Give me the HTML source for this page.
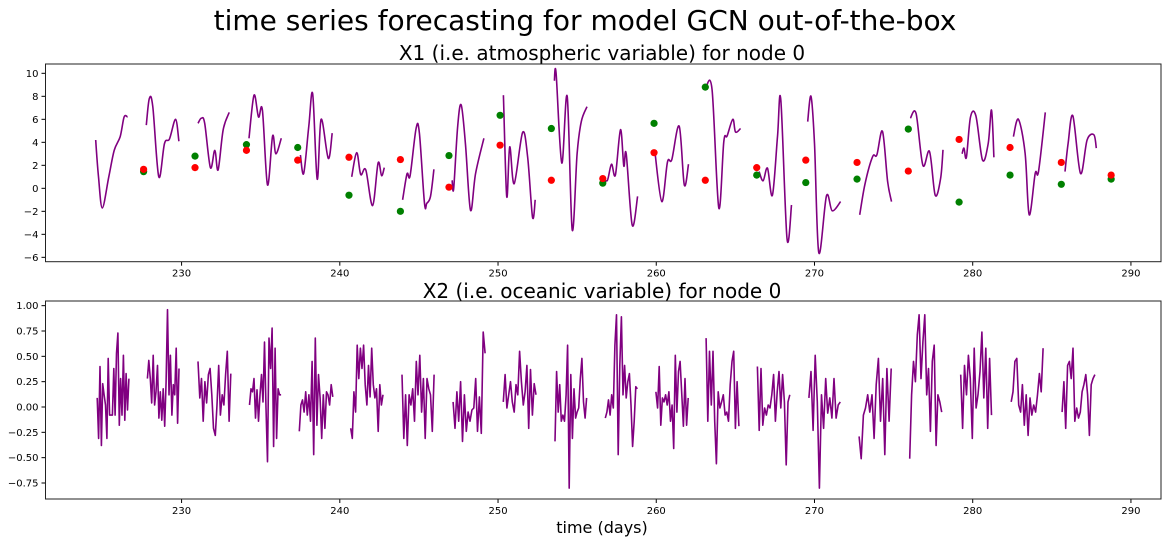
<!DOCTYPE html>
<html><head><meta charset="utf-8">
<style>
html,body{margin:0;padding:0;background:#fff;}
svg{display:block;font-family:"DejaVu Sans","Liberation Sans",sans-serif;}
</style></head>
<body>
<svg id="fig" width="1168" height="542" xmlns="http://www.w3.org/2000/svg">
<text x="585" y="30" font-size="28" text-anchor="middle" fill="#000">time series forecasting for model GCN out-of-the-box</text>
<text x="602" y="60" font-size="20" text-anchor="middle" fill="#000">X1 (i.e. atmospheric variable) for node 0</text>
<text x="602" y="298" font-size="20" text-anchor="middle" fill="#000">X2 (i.e. oceanic variable) for node 0</text>
<text x="602" y="533" font-size="16" text-anchor="middle" fill="#000">time (days)</text>
<g id="top"></g>
<g id="bot"></g>
</svg>
<script>
// ---- data: top chart (X1) ----
const x1Segments = [
 [[224.57,4.2],[224.75,1],[224.99,-1.7],[225.4,1.0],[225.74,3.3],[226.12,4.5],[226.37,6.2],[226.59,6.2]],
 [[227.77,5.5],[227.96,7.8],[228.18,7.1],[228.56,1.0],[228.92,3.9],[229.24,4.3],[229.62,6.0],[229.83,4.1]],
 [[231.04,5.65],[231.25,6.1],[231.46,5.65],[231.82,1.8],[232.1,3.3],[232.31,1.6],[232.63,5.1],[233.01,6.6]],
 [[234.26,4.35],[234.58,8.1],[234.86,6.2],[235.11,6.8],[235.43,0.3],[235.75,4.55],[235.96,3.0],[236.3,4.35]],
 [[237.51,2.9],[237.72,1.3],[238.04,5.4],[238.29,8.2],[238.57,0.8],[238.82,6.0],[239.27,2.6],[239.52,4.8]],
 [[240.75,1.0],[241.07,3.1],[241.32,1.2],[241.64,1.6],[242.07,-1.5],[242.42,2.2],[242.64,1.1],[242.81,1.8]],
 [[243.97,-1.0],[244.25,1.25],[244.44,1.1],[244.82,5.2],[245.03,4.8],[245.35,-1.3],[245.5,-1.3],[245.73,-0.7],[245.95,1.65]],
 [[247.1,0.7],[247.2,0],[247.45,5.4],[247.67,7.25],[247.94,3.9],[248.26,-1.9],[248.58,1.3],[249.11,4.35]],
 [[250.34,8.1],[250.55,-0.7],[250.74,3.6],[251.02,0.4],[251.55,4.85],[251.87,2.75],[252.18,-2.5],[252.35,-1.0]],
 [[253.56,9.35],[253.67,10.0],[254.03,2.2],[254.37,8.0],[254.69,-3.6],[255.0,3.0],[255.26,5.8],[255.62,7.1]],
 [[256.64,0.9],[256.91,0.7],[257.17,2.1],[257.42,1.15],[257.74,5.1],[257.95,1.95],[258.1,3.0],[258.48,-3.2],[258.82,-0.7]],
 [[259.92,3.1],[260.35,-1.15],[260.71,2.3],[260.98,2.5],[261.45,5.4],[261.77,0.3],[262.04,2.1]],
 [[263.15,8.85],[263.53,8.55],[263.95,-1.7],[264.27,4.05],[264.48,4.55],[264.84,6.0],[265.01,4.9],[265.33,5.2]],
 [[266.5,1.45],[266.75,0.65],[267.03,1.75],[267.34,-0.6],[267.66,4.5],[267.87,7.7],[268.26,-4.35],[268.55,-1.45]],
 [[269.57,5.8],[269.78,8.0],[270.0,3.9],[270.27,-5.6],[270.76,-0.65],[271.12,-1.95],[271.65,-1.15]],
 [[272.86,-2.3],[273.18,0.3],[273.67,2.75],[273.94,2.9],[274.3,4.95],[274.62,0.6],[274.87,-1.15]],
 [[276.06,6.1],[276.42,6.5],[276.85,2.0],[277.27,3.2],[277.63,-0.6],[277.97,0.85],[278.12,3.35]],
 [[279.33,3.0],[279.45,3.5],[279.6,2.7],[279.86,6.2],[280.2,6.3],[280.62,2.45],[280.98,3.9],[281.19,6.8],[281.34,2.7]],
 [[282.57,4.5],[282.89,6.0],[283.31,3.05],[283.57,-2.3],[283.95,1.3],[284.16,1.45],[284.59,6.6]],
 [[285.83,1.45],[286.03,3.9],[286.33,6.3],[286.81,1.3],[287.23,4.2],[287.66,4.65],[287.81,3.5]]
];
const dotDays = [227.6,230.85,234.1,237.34,240.58,243.83,246.9,250.13,253.37,256.62,259.86,263.1,266.35,269.45,272.69,275.93,279.14,282.36,285.6,288.75];
const redValues = [1.65,1.8,3.3,2.45,2.7,2.5,0.1,3.75,0.7,0.85,3.1,0.7,1.8,2.45,2.25,1.5,4.25,3.55,2.25,1.15];
const greenValues = [1.45,2.8,3.8,3.55,-0.6,-2.0,2.85,6.35,5.2,0.45,5.65,8.8,1.15,0.5,0.8,5.15,-1.2,1.15,0.35,0.8];
const x1Ticks = [-6,-4,-2,0,2,4,6,8,10];
const xTicks = [230,240,250,260,270,280,290];
// ---- data: bottom chart (X2) ----
const x2Starts = [224.67,227.84,231.04,234.29,237.44,240.69,243.93,247.16,250.33,253.6,256.78,259.98,263.15,266.39,269.65,272.82,276.02,279.24,282.43,285.65];
const x2Ends = [226.67,229.84,233.11,236.29,239.56,242.73,245.96,249.18,252.4,255.6,258.81,262.02,265.22,268.44,271.63,274.85,278.04,281.19,284.45,287.72];
const x2Values = [
 [0.09,-0.31,0.4,-0.38,0.23,0.12,0.02,-0.31,0.48,-0.08,-0.08,-0.08,0.38,-0.08,0.53,0.73,-0.18,0.28,-0.08,0.51,-0.13,0.33,-0.03,0.28],
 [0.28,0.46,0.28,0.04,0.51,0.02,0.15,0.41,-0.11,0.15,-0.13,0.18,-0.19,0.25,0.96,0.12,0.51,-0.08,0.22,0.12,0.58,-0.16,0.38],
 [0.45,0.09,0.28,-0.14,0.25,0.04,0.32,0.38,0.12,-0.21,-0.28,0.02,0.41,-0.08,0.12,0.02,0.32,0.55,-0.14,0.33],
 [0.02,0.18,0.15,0.28,-0.11,0.17,-0.14,0.12,0.32,0.05,0.64,-0.01,-0.54,0.68,0.38,0.78,-0.39,0.58,-0.31,0.18,0.12,0.12],
 [-0.24,0.02,0.07,-0.05,0.15,-0.08,0.12,-0.14,0.45,-0.47,0.68,-0.18,0.32,0.09,-0.31,0.12,-0.21,0.15,0.12,0.02,0.22,0.1],
 [-0.21,-0.31,0.15,-0.05,0.61,0.28,0.58,0.38,0.61,0.22,0.02,0.41,0.1,0.58,0.22,0.09,0.18,-0.24,0.22,0.02,0.12],
 [0.32,-0.31,0.12,-0.38,0.12,0.02,0.18,-0.14,0.45,0.12,0.51,-0.05,0.28,-0.31,0.28,0.18,0.12,-0.24,0.32],
 [0.05,-0.21,0.15,-0.14,0.25,-0.34,0.12,-0.24,-0.05,-0.14,-0.03,-0.01,0.28,-0.24,0.1,-0.26,0.74,0.53],
 [0.05,0.32,-0.01,0.12,0.25,0.05,-0.05,0.22,0.12,0.55,0.25,0.02,0.15,0.41,-0.21,0.37,-0.08,0.23,0.12],
 [-0.34,0.35,-0.05,0.22,-0.14,-0.08,-0.14,0.12,0.61,-0.8,0.32,-0.31,0.18,-0.11,-0.05,-0.01,0.28,0.48,0.05,-0.11,0.09],
 [-0.11,-0.05,0.07,-0.08,0.12,-0.01,0.61,0.91,-0.47,0.41,0.89,0.12,0.41,0.09,0.25,0.33,0.02,-0.39,-0.14,0.2,0.18],
 [0.15,-0.01,0.4,-0.18,0.09,0.05,0.12,0.02,0.15,-0.14,0.02,-0.41,0.51,-0.05,0.35,0.45,0.12,-0.19,0.28,-0.18,0.09],
 [0.68,-0.14,0.55,0.02,0.55,-0.14,-0.56,0.15,-0.01,0.05,0.12,-0.08,-0.05,-0.14,0.22,0.45,0.55,-0.21,0.25,-0.19],
 [0.4,-0.23,0.38,-0.18,-0.01,-0.08,0.02,-0.01,0.12,0.32,-0.14,0.15,0.35,-0.01,0.32,0.05,-0.57,0.05,0.12],
 [0.09,0.35,-0.23,0.51,0.05,-0.8,0.12,-0.21,0.28,-0.06,0.09,-0.11,0.28,-0.11,0.02,0.05],
 [-0.29,-0.51,-0.08,-0.01,0.12,-0.05,0.12,-0.31,0.22,0.48,-0.14,0.28,-0.47,0.38,-0.14,0.38],
 [-0.51,0.12,0.45,0.25,0.71,0.91,0.28,0.64,0.91,0.12,0.38,-0.24,0.45,0.61,-0.38,0.12,0.05,-0.05],
 [0.32,-0.21,0.41,0.12,0.51,0.28,-0.31,0.58,-0.01,0.12,0.35,0.74,0.09,0.58,-0.21,0.48,-0.08],
 [0.05,0.15,0.45,0.48,0.02,-0.05,0.22,-0.18,0.12,-0.28,0.09,-0.08,0.02,-0.05,0.12,0.33,0.15,0.58],
 [-0.05,0.25,-0.21,0.41,0.45,0.28,0.58,-0.14,-0.01,-0.11,-0.05,0.15,0.22,0.32,0.12,-0.28,0.22,0.28,0.32]
];
const x2Ticks = [-0.75,-0.5,-0.25,0,0.25,0.5,0.75,1.0];
const x2TickLabels = ["−0.75","−0.50","−0.25","0.00","0.25","0.50","0.75","1.00"];

const NS = "http://www.w3.org/2000/svg";
const L = 45.5, R = 1161, XMIN = 221.4, XMAX = 291.9;
function xs(d){ return L + (d - XMIN) / (XMAX - XMIN) * (R - L); }
function mk(tag, attrs, parent){ const e = document.createElementNS(NS, tag); for (const k in attrs) e.setAttribute(k, attrs[k]); parent.appendChild(e); return e; }

function axes(g, top, bot, ymin, ymax, ticks, labels){
  const ys = v => bot - (v - ymin) / (ymax - ymin) * (bot - top);
  ticks.forEach((t, i) => {
    const y = ys(t);
    const tk = mk('line', {x1: L - 4, x2: L, y1: y, y2: y, stroke: '#000', 'stroke-width': 1}, g);
    
    
    const tx = mk('text', {x: L - 7, y: y + 3.5, 'font-size': 10, 'text-anchor': 'end', fill: '#000'}, g);
    
    
    tx.textContent = labels ? labels[i] : (t < 0 ? '−' + (-t) : String(t));
  });
  xTicks.forEach(t => {
    const x = xs(t);
    const tk = mk('line', {x1: x, x2: x, y1: bot, y2: bot + 4, stroke: '#000', 'stroke-width': 1}, g);
    
    
    const tx = mk('text', {x: x, y: bot + 15, 'font-size': 10, 'text-anchor': 'middle', fill: '#000'}, g);
    
    
    tx.textContent = String(t);
  });
  return ys;
}
function frame(g, top, bot){
  const f = mk('rect', {x: L, y: top, width: R - L, height: bot - top, fill: 'none', stroke: '#222', 'stroke-width': 1}, g);
  
  
}
function smoothPath(P){
  let d = 'M' + P[0][0].toFixed(1) + ',' + P[0][1].toFixed(1);
  for (let i = 0; i < P.length - 1; i++){
    const p0 = P[Math.max(0, i - 1)], p1 = P[i], p2 = P[i + 1], p3 = P[Math.min(P.length - 1, i + 2)];
    const c1x = p1[0] + (p2[0] - p0[0]) / 6, c1y = p1[1] + (p2[1] - p0[1]) / 6;
    const c2x = p2[0] - (p3[0] - p1[0]) / 6, c2y = p2[1] - (p3[1] - p1[1]) / 6;
    d += ' C' + c1x.toFixed(1) + ',' + c1y.toFixed(1) + ' ' + c2x.toFixed(1) + ',' + c2y.toFixed(1) + ' ' + p2[0].toFixed(1) + ',' + p2[1].toFixed(1);
  }
  return d;
}

// top chart
const gT = document.getElementById('top');
const T1 = 64, B1 = 261.7;
const ysT = axes(gT, T1, B1, -6.38, 10.81, x1Ticks, null);
x1Segments.forEach(seg => {
  const P = seg.map(q => [xs(q[0]), ysT(q[1])]);
  const p = mk('path', {d: smoothPath(P), fill: 'none', stroke: '#800080', 'stroke-width': 1.6, 'stroke-linejoin': 'round'}, gT);
  
  
});
dotDays.forEach((d, i) => {
  const c = mk('circle', {cx: xs(d), cy: ysT(greenValues[i]), r: 3.6, fill: '#008000'}, gT);
  
  
});
dotDays.forEach((d, i) => {
  const c = mk('circle', {cx: xs(d), cy: ysT(redValues[i]), r: 3.6, fill: '#ff0000'}, gT);
  
  
});
frame(gT, T1, B1);

// bottom chart
const gB = document.getElementById('bot');
const T2 = 301, B2 = 499;
const ysB = axes(gB, T2, B2, -0.908, 1.046, x2Ticks, x2TickLabels);
x2Values.forEach((vals, s) => {
  const n = vals.length, t0 = x2Starts[s], t1 = x2Ends[s];
  const pts = vals.map((v, i) => xs(t0 + (t1 - t0) * i / (n - 1)).toFixed(1) + ',' + ysB(v).toFixed(1)).join(' ');
  const p = mk('polyline', {points: pts, fill: 'none', stroke: '#800080', 'stroke-width': 1.6, 'stroke-linejoin': 'round'}, gB);
  
  
});
frame(gB, T2, B2);
</script>
</body></html>
